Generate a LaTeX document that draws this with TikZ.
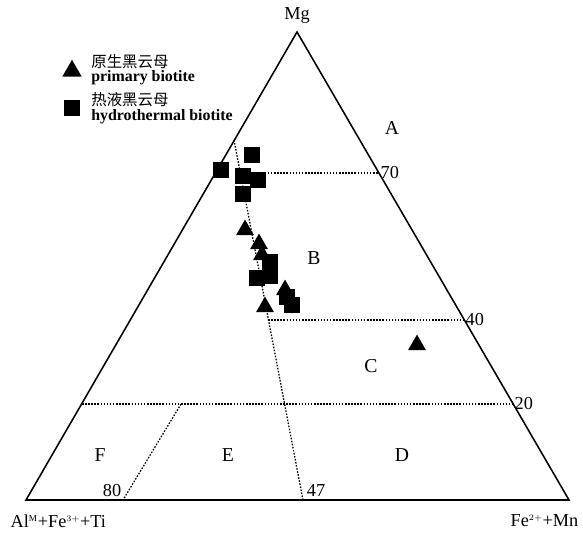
\documentclass[tikz,border=0pt]{standalone}
\usepackage{fontspec}
\setmainfont{Liberation Serif}
\newfontfamily\cjk{Noto Sans CJK SC}
\usetikzlibrary{shapes.geometric}

\begin{document}
\begin{tikzpicture}[x=0.025cm, y=-0.025cm,
        cote/.style={line width=1.1pt},
        limite/.style={line width=0.9pt, dash pattern=on 1.1pt off 1.1pt},
        tri/.style={regular polygon, regular polygon sides=3, fill=black, inner sep=0pt, minimum size=0.52cm},
        sq/.style={rectangle, fill=black, inner sep=0pt, minimum size=0.39cm},
        zone/.style={font=\fontsize{14}{16}\selectfont},
        val/.style={font=\fontsize{13}{15}\selectfont, inner sep=1pt}]
        \useasboundingbox (0,0) rectangle (583,533);

        % Sommets du diagramme ternaire
        \coordinate (Mg) at (297,32);
        \coordinate (Al) at (26,500);
        \coordinate (Fe) at (569,500);
        \draw[cote] (Al) -- (Mg) -- (Fe) -- cycle;

        % Extrémités des limites de champs
        \coordinate (h70a) at (240,173);
        \coordinate (h70b) at (379,173);
        \coordinate (h40a) at (268,320);
        \coordinate (h40b) at (464,320);
        \coordinate (h20a) at (82,404);
        \coordinate (h20b) at (513,404);
        \coordinate (v47a) at (234,140);
        \coordinate (v47b) at (303,500);
        \coordinate (v80a) at (181,404);
        \coordinate (v80b) at (123,500);

        % Limites en pointillés
        \draw[limite] (h70a) -- (h70b);
        \draw[limite] (h40a) -- (h40b);
        \draw[limite] (h20a) -- (h20b);
        \draw[limite] (v47a) -- (v47b);
        \draw[limite] (v80a) -- (v80b);

        % Valeurs sur les limites
        \node[val, anchor=west] (n70) at (h70b) {70};
        \node[val, anchor=west] (n40) at (h40b) {40};
        \node[val, anchor=west] (n20) at (h20b) {20};
        \node[val] (n80) at (112,490) {80};
        \node[val] (n47) at (316,490) {47};

        % Noms des pôles
        \node[val] (lMg) at (297,15) {Mg};
        \node[val, anchor=west, font=\fontsize{13}{15}\selectfont] (lAl) at (9,521) {Al$^{\scriptscriptstyle\mathrm{M}}$+Fe$^{\scriptscriptstyle 3+}$+Ti};
        \node[val, anchor=east, font=\fontsize{13}{15}\selectfont] (lFe) at (580,521) {Fe$^{\scriptscriptstyle 2+}$+Mn};

        % Noms des champs
        \node[zone] (A) at (392,128) {A};
        \node[zone] (B) at (314,258) {B};
        \node[zone] (C) at (371,366) {C};
        \node[zone] (D) at (402,455) {D};
        \node[zone] (E) at (228,455) {E};
        \node[zone] (F) at (100,455) {F};

        % Légende
        \node[tri, minimum size=0.56cm] (legtri) at (72,71) {};
        \node[sq, minimum size=0.42cm] (legsq) at (72,108) {};
        \node[anchor=west, inner sep=0pt, font=\cjk\fontsize{11}{13}\selectfont] (legtri1) at (91,62) {原生黑云母};
        \node[anchor=west, inner sep=0pt, font=\bfseries\fontsize{11.3}{13}\selectfont] (legtri2) at (91,78) {primary biotite};
        \node[anchor=west, inner sep=0pt, font=\cjk\fontsize{11}{13}\selectfont] (legsq1) at (91,100) {热液黑云母};
        \node[anchor=west, inner sep=0pt, font=\bfseries\fontsize{11.3}{13}\selectfont] (legsq2) at (91,117) {hydrothermal biotite};

        % Biotite hydrothermale
        \node[sq] (s1) at (252,155) {};
        \node[sq] (s2) at (221,170) {};
        \node[sq] (s3) at (243,176) {};
        \node[sq] (s4) at (258,180) {};
        \node[sq] (s5) at (243,194) {};
        \node[sq] (s6) at (270,262) {};
        \node[sq] (s7) at (270,276) {};
        \node[sq] (s8) at (257,278) {};
        \node[sq] (s9) at (287,297) {};
        \node[sq] (s10) at (292,305) {};

        % Biotite primaire
        \node[tri] (t1) at (245,230) {};
        \node[tri] (t2) at (259,244) {};
        \node[tri] (t3) at (262,255) {};
        \node[tri] (t4) at (285,290) {};
        \node[tri] (t5) at (265,307) {};
        \node[tri] (t6) at (417,345) {};

    \end{tikzpicture}
\end{document}
